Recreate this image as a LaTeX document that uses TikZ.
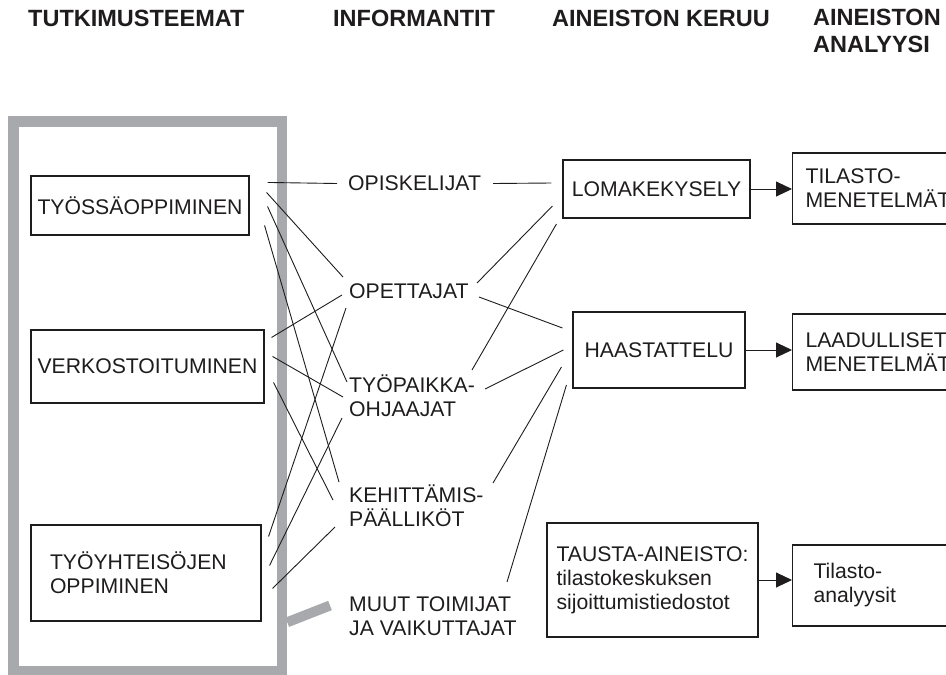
\documentclass[tikz,border=0pt]{standalone}
\usepackage{fontspec}
\setmainfont{Liberation Sans}
\usetikzlibrary{arrows.meta,calc}
\definecolor{ink}{HTML}{1E1C1D}
\definecolor{framegray}{HTML}{A7A9AC}
\begin{document}
\begin{tikzpicture}[x=1pt,y=-1pt,
  every node/.style={text=ink},
  body/.style={font=\fontsize{21.2}{24}\selectfont},
  head/.style={font=\fontsize{23.5}{27}\selectfont\bfseries, anchor=base west, inner sep=0pt},
  themebox/.style={body, draw=ink, line width=1.1pt, inner sep=0pt, align=center},
  infolabel/.style={body, anchor=west, inner sep=0pt, align=left},
  link/.style={draw=ink, line width=0.9pt},
  flow/.style={draw=ink, line width=0.9pt, -{Triangle[length=16pt,width=15pt]}},
  ]
\useasboundingbox (0,0) rectangle (946,675);
\clip (0,0) rectangle (946,675);

% column headings
\node[head] (h1) at (28,26) {TUTKIMUSTEEMAT};
\node[head] (h2) at (333,26) {INFORMANTIT};
\node[head] (h3) at (552,26) {AINEISTON KERUU};
\node[head, align=left, anchor=north west] (h4) at (813,9) {AINEISTON\\ANALYYSI};

% grey frame around the research themes
\node[draw=framegray, line width=10.5pt, minimum width=268.5pt, minimum height=549.5pt, inner sep=0pt] (frame) at (147.75,396.25) {};

% research themes
\node[themebox, minimum width=218pt, minimum height=59pt] (ts) at (140,205.5) {TYÖSSÄOPPIMINEN};
\node[themebox, minimum width=233pt, minimum height=73pt] (vk) at (147.5,366.5) {VERKOSTOITUMINEN};
\node[themebox, align=left, text width=192pt, inner xsep=19pt, minimum height=96pt] (to) at (146,573) {TYÖYHTEISÖJEN\\OPPIMINEN};

% informants
\node[infolabel] (op)  at (348,183.5) {OPISKELIJAT};
\node[infolabel] (ope) at (349,291.5) {OPETTAJAT};
\node[infolabel] (tp)  at (349,396) {TYÖPAIKKA-\\OHJAAJAT};
\node[infolabel] (ke)  at (349,506) {KEHITTÄMIS-\\PÄÄLLIKÖT};
\node[infolabel] (mu)  at (349,616.5) {MUUT TOIMIJAT\\JA VAIKUTTAJAT};

% data collection
\node[themebox, minimum width=187pt, minimum height=58pt] (lo) at (656.5,189) {LOMAKEKYSELY};
\node[themebox, minimum width=172pt, minimum height=76pt] (ha) at (659,350) {HAASTATTELU};
\node[themebox, align=left, minimum width=211pt, minimum height=114pt] (tu) at (652.5,580) {TAUSTA-AINEISTO:\\tilastokeskuksen\\sijoittumistiedostot};

% data analysis
\node[themebox, anchor=west, align=left, text width=174pt, inner xsep=13pt, minimum height=71pt] (tm) at (792,188.5) {TILASTO-\\MENETELMÄT};
\node[themebox, anchor=west, align=left, text width=174pt, inner xsep=13pt, minimum height=76pt] (lm) at (792,352) {LAADULLISET\\MENETELMÄT};
\node[themebox, anchor=west, align=left, text width=158pt, inner xsep=21pt, minimum height=81pt] (ta) at (792,585.5) {Tilasto-\\analyysit};

% themes to informants
\draw[link] ($(ts.north east)+(18,7)$)  -- ($(op.west)+(-11,0)$);
\draw[link] ($(ts.north east)+(17,17)$) -- ($(ope.west)+(-6,-14.5)$);
\draw[link] ($(ts.north east)+(18,31)$) -- ($(tp.west)+(-2,-14)$);
\draw[link] ($(ts.north east)+(15,50)$) -- ($(ke.west)+(-10,-24)$);

\draw[link] ($(vk.north east)+(7,8)$)  -- ($(ope.west)+(-7,3.5)$);
\draw[link] ($(vk.north east)+(8,27)$) -- ($(tp.west)+(-6,1)$);
\draw[link] ($(vk.north east)+(9,53)$) -- ($(ke.west)+(-16,-6)$);

\draw[link] ($(to.north east)+(7,12)$)  -- ($(ope.west)+(-3,16.5)$);
\draw[link] ($(to.north east)+(8,41)$)  -- ($(tp.west)+(-7,22)$);
\draw[link] ($(to.north east)+(11,64)$) -- ($(ke.west)+(-14,21)$);

% frame to the other actors
\draw[framegray, line width=10pt] ($(frame.south east)+(0,-54)$) -- ($(mu.west)+(-19,-11)$);

% informants to data collection
\draw[link] ($(op.west)+(145,0)$)      -- ($(lo.west)+(-11,-6)$);
\draw[link] ($(ope.west)+(128,-8.5)$)  -- ($(lo.west)+(-10,17)$);
\draw[link] ($(tp.west)+(123,-26)$)    -- ($(lo.west)+(-6,35)$);
\draw[link] ($(ope.west)+(130,5.5)$)   -- ($(ha.west)+(-10,-22)$);
\draw[link] ($(tp.west)+(136,-7)$)     -- ($(ha.west)+(-9,0)$);
\draw[link] ($(ke.west)+(144,-23)$)    -- ($(ha.west)+(-11,17)$);
\draw[link] ($(mu.west)+(158,-34.5)$)  -- ($(ha.west)+(-6,35)$);

% collection to analysis
\draw[flow] (lo.east) -- (tm.west |- lo.east);
\draw[flow] (ha.east) -- (lm.west |- ha.east);
\draw[flow] (tu.east) -- (ta.west |- tu.east);
\end{tikzpicture}
\end{document}
